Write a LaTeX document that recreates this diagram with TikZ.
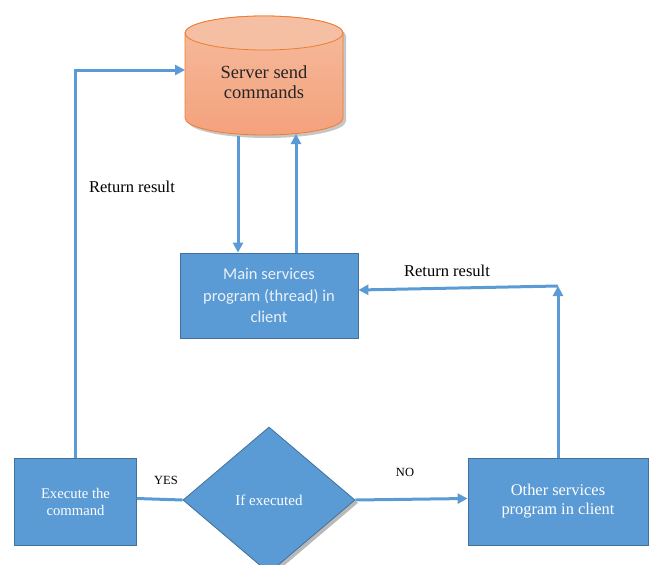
\documentclass[tikz,border=0pt]{standalone}
\usepackage{fontspec}
\setmainfont{Liberation Serif}
\newfontfamily\calib{Carlito}
\usetikzlibrary{shapes.geometric,arrows.meta,shadows}
\definecolor{boxblue}{HTML}{5B9BD5}
\definecolor{boxedge}{HTML}{41719C}
\definecolor{linblue}{HTML}{5B9BD5}
\definecolor{ortop}{HTML}{F5BB9E}
\definecolor{orbot}{HTML}{F4A27C}
\definecolor{orlid}{HTML}{F5BFA3}
\definecolor{oredge}{HTML}{ED7D31}
\definecolor{softwhite}{HTML}{EAF1F8}
\begin{document}
\begin{tikzpicture}[x=1pt,y=1pt,
  box/.style={rectangle, draw=boxedge, fill=boxblue, line width=0.8pt, text=white, align=center, inner sep=0pt},
  conn/.style={draw=linblue, line width=3pt},
  arr/.style={conn, -{Triangle[length=10pt,width=10pt]}},
  lbl/.style={font=\fontsize{16.5}{18}\selectfont, text=black, inner sep=0pt},
  small/.style={font=\fontsize{12.5}{14}\selectfont, text=black, inner sep=0pt},
  shad/.style={drop shadow={shadow xshift=3pt, shadow yshift=-3pt, fill=gray, opacity=0.55}}]
\useasboundingbox (0,0) rectangle (649,-565);

% cylinder
\fill[gray, opacity=0.45] (188,-36) -- (188,-121) arc[start angle=180,end angle=360,x radius=79,y radius=17] -- (346,-36) arc[start angle=0,end angle=180,x radius=79,y radius=17] -- cycle;
\path[top color=ortop, bottom color=orbot, draw=oredge, line width=0.8pt]
  (185,-33) -- (185,-118) arc[start angle=180,end angle=360,x radius=79,y radius=17]
  -- (343,-33) arc[start angle=0,end angle=180,x radius=79,y radius=17] -- cycle;
\draw[oredge, fill=orlid, line width=0.8pt] (264,-33) ellipse[x radius=79, y radius=17];
\node[minimum width=158pt, minimum height=85pt, inner sep=0pt] (srv) at (264,-75.5) {};
\node[align=center, font=\fontsize{18.5}{20.5}\selectfont, text=black!85] (srvtext) at (264,-82) {Server send\\commands};

% boxes
\node[box, minimum width=178pt, minimum height=85pt, text=softwhite, font=\calib\fontsize{16.5}{21.5}\selectfont] (main) at (269,-295.5) {Main services\\program (thread) in\\client};
\node[box, minimum width=122pt, minimum height=87pt, font=\fontsize{14.7}{17}\selectfont] (exec) at (75.5,-501.5) {Execute the\\command};
\node[box, minimum width=180pt, minimum height=87pt, font=\fontsize{16.4}{19}\selectfont] (other) at (558,-501.5) {Other services\\program in client};
\node[diamond, draw=boxedge, fill=boxblue, line width=0.8pt, aspect=1.18, minimum width=172pt, minimum height=146pt, inner sep=0pt, text=white, font=\fontsize{15}{16}\selectfont, shad] (dec) at (269,-500) {If executed};

% connectors
\coordinate (cylin) at (185,-70);
\draw[arr] (exec.north) |- (cylin);
\coordinate (d1) at (238,-136);
\draw[arr] (d1) -- (d1 |- main.north);
\coordinate (u1) at (296,-134);
\draw[arr] (u1 |- main.north) -- (u1);
\coordinate (rc) at (558,-286);
\draw[arr] (other.north) -- (rc);
\draw[arr] (rc) -- ([yshift=5.5pt]main.east);
\draw[conn] ([yshift=3pt]exec.east) -- (dec.west);
\draw[arr] (dec.east) -- ([yshift=3pt]other.west);

% labels
\node[lbl] (rr1) at (132,-187) {Return result};
\node[lbl] (rr2) at (447,-271) {Return result};
\node[small] (yes) at (166,-480) {YES};
\node[small] (no) at (405,-472) {NO};
\end{tikzpicture}
\end{document}
